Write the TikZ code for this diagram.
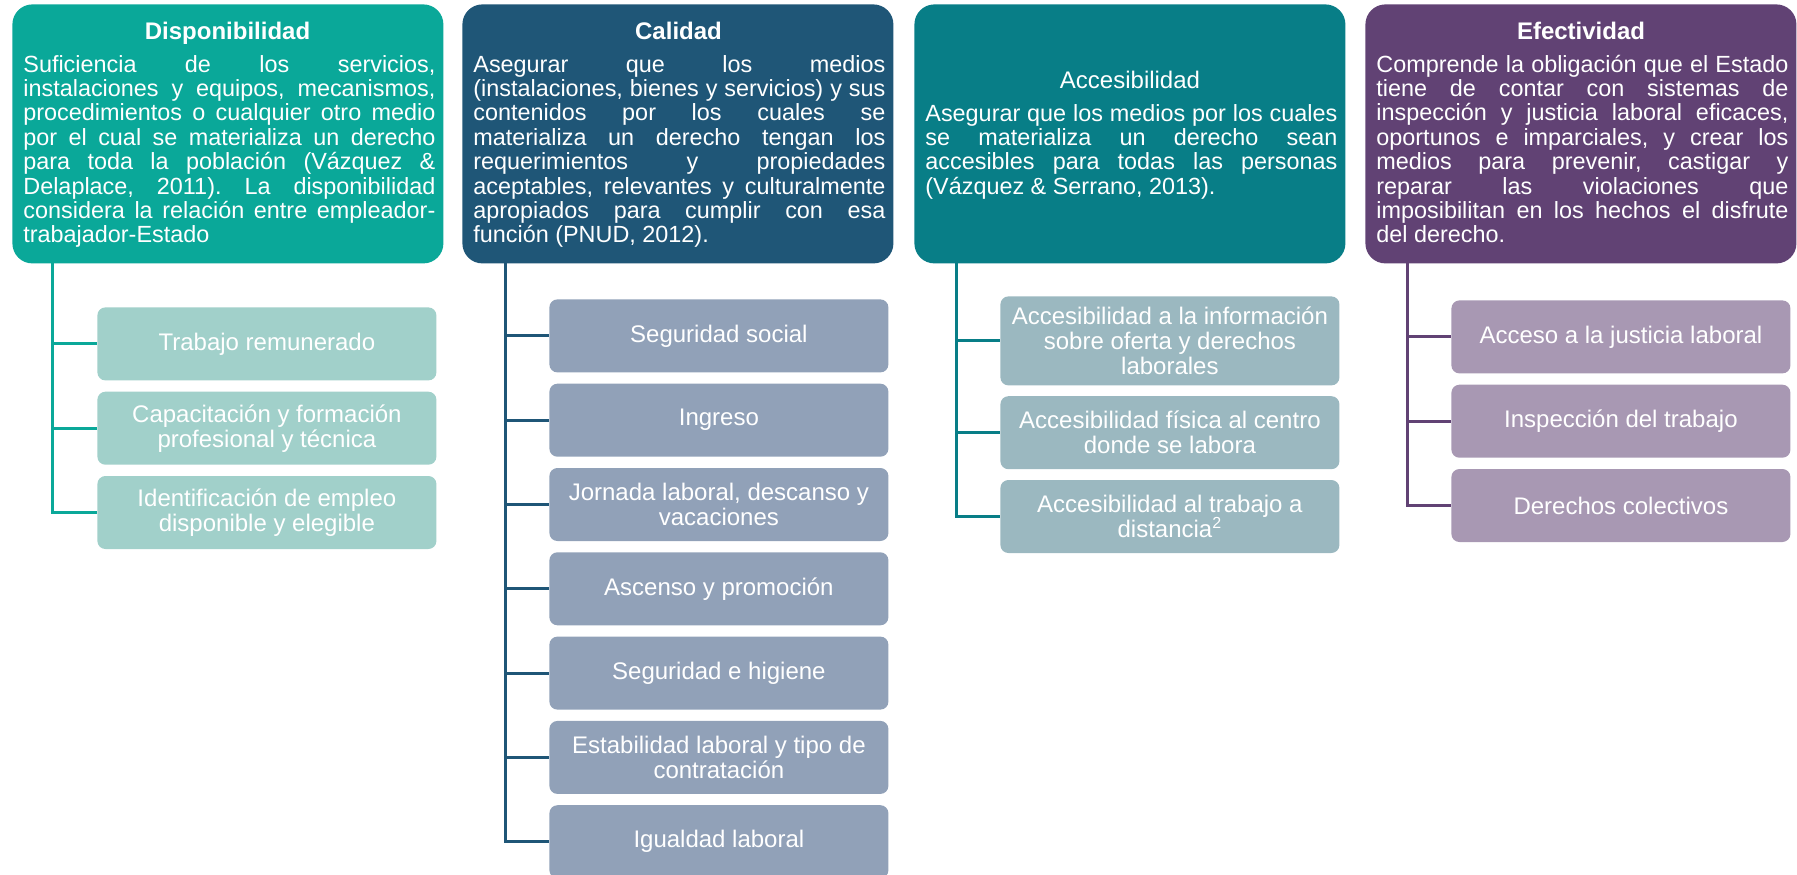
\documentclass[tikz,border=0pt]{standalone}
\usepackage{fontspec}
\setmainfont{Liberation Sans}
\usetikzlibrary{positioning}
\definecolor{dispmain}{HTML}{0AA899}
\definecolor{dispsub}{HTML}{A1D0CA}
\definecolor{calmain}{HTML}{1F5677}
\definecolor{calsub}{HTML}{91A1B8}
\definecolor{accmain}{HTML}{087E87}
\definecolor{accsub}{HTML}{9BB8C0}
\definecolor{efemain}{HTML}{614274}
\definecolor{efesub}{HTML}{A898B3}
\frenchspacing
\hyphenpenalty=10000
\newcommand{\bodytext}[1]{\parbox[t]{206pt}{\fontsize{11.7}{12.2}\selectfont
  \tolerance=10000 #1}}

\begin{document}
\begin{tikzpicture}[x=0.5pt, y=-0.5pt,
   mainbox/.style={rounded corners=10pt, minimum width=215.5pt, minimum height=129.5pt,
     anchor=north west, inner sep=0pt},
   subbox/.style={rounded corners=4pt, minimum width=169.5pt, minimum height=36.5pt,
     text width=163pt, align=flush center, inner sep=0pt, text=white,
     font=\fontsize{12}{12.5}\selectfont},
   title/.style={anchor=base, text=white, inner sep=0pt, font=\fontsize{12}{14}\selectfont},
   body/.style={anchor=base west, text=white, inner sep=0pt},
   branch/.style={line width=1.5pt}]
  \useasboundingbox (0,0) rectangle (1797,874);
  % main boxes
  \node[mainbox, fill=dispmain] (disp) at (12,4) {};
  \node[mainbox, fill=calmain] (cal) at (462,4) {};
  \node[mainbox, fill=accmain] (acc) at (914,4) {};
  \node[mainbox, fill=efemain] (efe) at (1365,4) {};
  \node[title, font=\bfseries\fontsize{12}{14}\selectfont] (dispt) at (227.5,39) {Disponibilidad};
  \node[title, font=\bfseries\fontsize{12}{14}\selectfont] (calt) at (678.5,39) {Calidad};
  \node[title] (acct) at (1130,88) {Accesibilidad};
  \node[title, font=\bfseries\fontsize{12}{14}\selectfont] (efet) at (1581,39) {Efectividad};
  \node[body] (dispb) at (23,72) {\bodytext{Suficiencia de los servicios,\linebreak
    instalaciones y equipos, mecanismos,\linebreak
    procedimientos o cualquier otro medio\linebreak
    por el cual se materializa un derecho\linebreak
    para toda la población (Vázquez \&\linebreak
    Delaplace, 2011). La disponibilidad\linebreak
    considera la relación entre empleador-\linebreak trabajador-Estado}};
  \node[body] (calb) at (473,72) {\bodytext{Asegurar que los medios\linebreak
    (instalaciones, bienes y servicios) y sus\linebreak
    contenidos por los cuales se\linebreak
    materializa un derecho tengan los\linebreak
    requerimientos y propiedades\linebreak
    aceptables, relevantes y culturalmente\linebreak
    apropiados para cumplir con esa\linebreak
    función (PNUD, 2012).}};
  \node[body] (accb) at (925,121) {\bodytext{Asegurar que los medios por los cuales\linebreak
    se materializa un derecho sean\linebreak
    accesibles para todas las personas\linebreak
    (Vázquez \& Serrano, 2013).}};
  \node[body] (efeb) at (1376,72) {\bodytext{Comprende la obligación que el Estado\linebreak
    tiene de contar con sistemas de\linebreak
    inspección y justicia laboral eficaces,\linebreak
    oportunos e imparciales, y crear los\linebreak
    medios para prevenir, castigar y\linebreak
    reparar las violaciones que\linebreak
    imposibilitan en los hechos el disfrute\linebreak
    del derecho.}};
  % Disponibilidad
  \node[subbox, fill=dispsub, anchor=north west] (disp1) at (97,307) {Trabajo remunerado};
  \node[subbox, fill=dispsub, below=5.25pt of disp1] (disp2) {Capacitación y formación profesional y técnica};
  \node[subbox, fill=dispsub, below=5.25pt of disp2] (disp3) {Identificación de empleo disponible y elegible};
  \coordinate (disproot) at (52,263);
  \foreach \i in {1,2,3} \draw[branch, dispmain] (disproot) |- (disp\i.west);
  % Calidad
  \node[subbox, fill=calsub, anchor=north west] (cal1) at (549,299) {Seguridad social};
  \node[subbox, fill=calsub, below=5.25pt of cal1] (cal2) {Ingreso};
  \node[subbox, fill=calsub, below=5.25pt of cal2] (cal3) {Jornada laboral, descanso y vacaciones};
  \node[subbox, fill=calsub, below=5.25pt of cal3] (cal4) {Ascenso y promoción};
  \node[subbox, fill=calsub, below=5.25pt of cal4] (cal5) {Seguridad e higiene};
  \node[subbox, fill=calsub, below=5.25pt of cal5] (cal6) {Estabilidad laboral y tipo de contratación};
  \node[subbox, fill=calsub, below=5.25pt of cal6] (cal7) {Igualdad laboral};
  \coordinate (calroot) at (505,263);
  \foreach \i in {1,...,7} \draw[branch, calmain] (calroot) |- (cal\i.west);
  % Accesibilidad
  \node[subbox, fill=accsub, anchor=north west, minimum height=44.5pt] (acc1) at (1000,296) {Accesibilidad a la información sobre oferta y derechos laborales};
  \node[subbox, fill=accsub, below=5pt of acc1] (acc2) {Accesibilidad física al centro donde se labora};
  \node[subbox, fill=accsub, below=5pt of acc2] (acc3) {Accesibilidad al trabajo a distancia\textsuperscript{2}};
  \coordinate (accroot) at (956,263);
  \foreach \i in {1,2,3} \draw[branch, accmain] (accroot) |- (acc\i.west);
  % Efectividad
  \node[subbox, fill=efesub, anchor=north west] (efe1) at (1451,300) {Acceso a la justicia laboral};
  \node[subbox, fill=efesub, below=5.25pt of efe1] (efe2) {Inspección del trabajo};
  \node[subbox, fill=efesub, below=5.25pt of efe2] (efe3) {Derechos colectivos};
  \coordinate (eferoot) at (1407,263);
  \foreach \i in {1,2,3} \draw[branch, efemain] (eferoot) |- (efe\i.west);
\end{tikzpicture}
\end{document}
